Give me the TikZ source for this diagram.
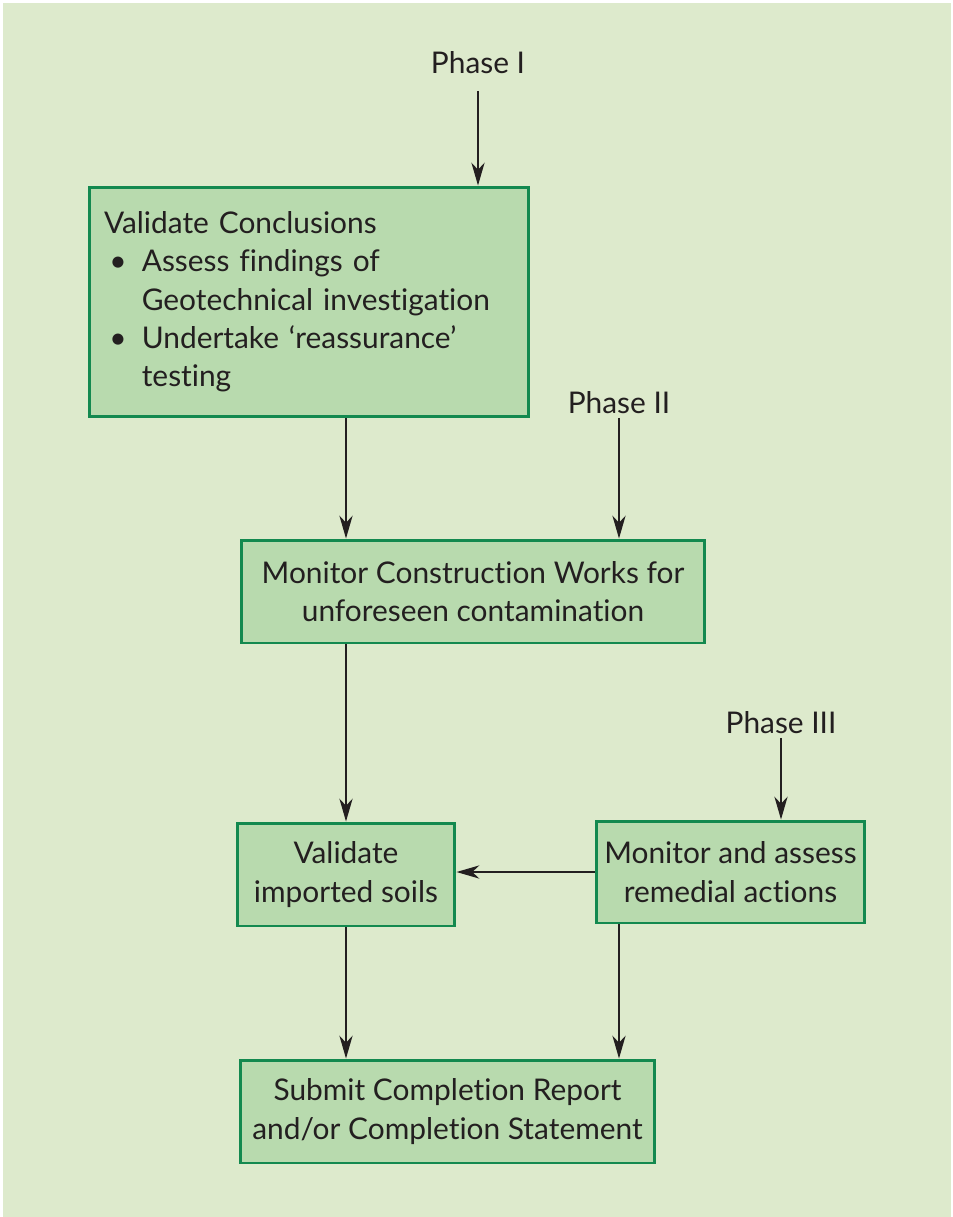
\documentclass[tikz,border=0pt]{standalone}
\usepackage{fontspec}
\setmainfont{Lato}[Ligatures=NoCommon]
\usetikzlibrary{arrows.meta}
\definecolor{bggreen}{HTML}{DDEACC}
\definecolor{boxgreen}{HTML}{B8DAAE}
\definecolor{edgegreen}{HTML}{13894F}
\definecolor{inkdark}{HTML}{231F20}
\newcommand{\itm}{\makebox[21.5pt][l]{\hspace{3pt}\textbullet}}
\newcommand{\itmgap}{\hspace*{21.5pt}}
\tikzset{
  stage/.style={draw=edgegreen, line width=1.7pt, fill=boxgreen, text=inkdark,
    align=center, inner sep=0pt, minimum height=2.06cm},
  phase/.style={text=inkdark, inner sep=2pt},
  flow/.style={draw=inkdark, line width=1.1pt,
    -{Stealth[length=13pt,width=7.5pt,inset=4pt]}}
}

\begin{document}
\begin{tikzpicture}[x=0.02cm,y=-0.02cm,font=\fontsize{17}{21.8}\selectfont]
\useasboundingbox (0,0) rectangle (953,1217);
\fill[white] (0,0) rectangle (953,1217);
\fill[bggreen] (3,3) rectangle (951,1217);
% phases
\node at (478,63) [phase] (p1) {Phase I};
\node at (619,403) [phase] (p2) {Phase II};
\node at (781,723) [phase] (p3) {Phase III};
% boxes
\node at (309,302) [stage, align=left, text width=8.2cm, inner xsep=0.3cm,
  minimum height=4.6cm] (b1)
  {Validate Conclusions\\
   \itm Assess findings of\\
   \itmgap Geotechnical investigation\\
   \itm Undertake `reassurance'\\
   \itmgap testing};
\node at (473,591.5) [stage, minimum width=9.28cm] (b2)
  {Monitor Construction Works for\\ unforeseen contamination};
\node at (346,874.5) [stage, minimum width=4.36cm] (b3)
  {Validate\\ imported soils};
\node at (730.5,872) [stage, minimum width=5.38cm, minimum height=2.04cm] (b4)
  {Monitor and assess\\ remedial actions};
\node at (447.5,1111.5) [stage, minimum width=8.3cm] (b5)
  {Submit Completion Report\\ and/or Completion Statement};
% arrows
\draw[flow, shorten <=0.26cm] (p1.south) -- (p1.south |- b1.north);
\draw[flow] (p2.south) -- (p2.south |- b2.north);
\draw[flow] (p3.south) -- (p3.south |- b4.north);
\draw[flow] (b1.south -| b3) -- (b2.north -| b3);
\draw[flow] (b2.south -| b3) -- (b3.north);
\draw[flow] (b4.west) -- (b4.west -| b3.east);
\draw[flow] (b3.south) -- (b5.north -| b3);
\draw[flow] (b4.south -| p2) -- (b5.north -| p2);
\end{tikzpicture}
\end{document}
